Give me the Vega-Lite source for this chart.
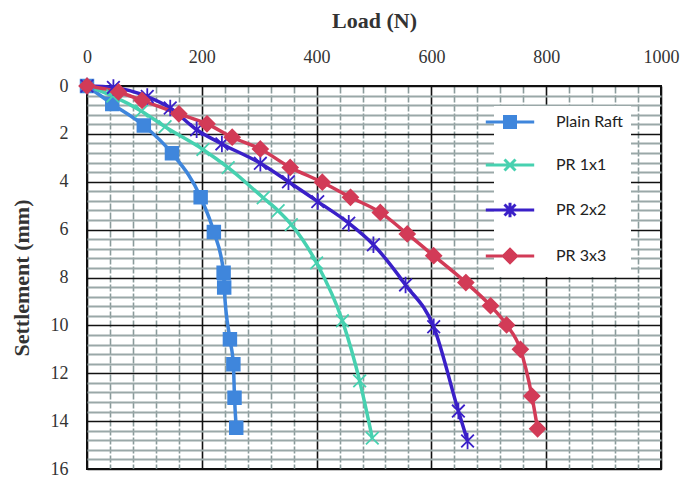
{
  "$schema": "https://vega.github.io/schema/vega-lite/v6.json",
  "width": 574,
  "height": 383,
  "autosize": {"type": "none"},
  "padding": {"left": 87, "top": 86, "right": 24, "bottom": 12},
  "background": "white",
  "config": {"view": {"stroke": "#111", "strokeWidth": 2}},
  "data": {"values": [
    {"series": "Plain Raft", "load": 0, "settlement": 0},
    {"series": "Plain Raft", "load": 44, "settlement": 0.75},
    {"series": "Plain Raft", "load": 99, "settlement": 1.65},
    {"series": "Plain Raft", "load": 148, "settlement": 2.81},
    {"series": "Plain Raft", "load": 198, "settlement": 4.65},
    {"series": "Plain Raft", "load": 221, "settlement": 6.1},
    {"series": "Plain Raft", "load": 238, "settlement": 7.8},
    {"series": "Plain Raft", "load": 239, "settlement": 8.42},
    {"series": "Plain Raft", "load": 249, "settlement": 10.58},
    {"series": "Plain Raft", "load": 255, "settlement": 11.62},
    {"series": "Plain Raft", "load": 257, "settlement": 13.02},
    {"series": "Plain Raft", "load": 260, "settlement": 14.28},
    {"series": "PR 1x1", "load": 0, "settlement": 0},
    {"series": "PR 1x1", "load": 45, "settlement": 0.42},
    {"series": "PR 1x1", "load": 95, "settlement": 1.05},
    {"series": "PR 1x1", "load": 136, "settlement": 1.7},
    {"series": "PR 1x1", "load": 202, "settlement": 2.65},
    {"series": "PR 1x1", "load": 246, "settlement": 3.41},
    {"series": "PR 1x1", "load": 307, "settlement": 4.67},
    {"series": "PR 1x1", "load": 333, "settlement": 5.21},
    {"series": "PR 1x1", "load": 356, "settlement": 5.79},
    {"series": "PR 1x1", "load": 400, "settlement": 7.39},
    {"series": "PR 1x1", "load": 445, "settlement": 9.81},
    {"series": "PR 1x1", "load": 475, "settlement": 12.32},
    {"series": "PR 1x1", "load": 497, "settlement": 14.71},
    {"series": "PR 2x2", "load": 0, "settlement": 0},
    {"series": "PR 2x2", "load": 46, "settlement": 0.06},
    {"series": "PR 2x2", "load": 105, "settlement": 0.44},
    {"series": "PR 2x2", "load": 145, "settlement": 0.92},
    {"series": "PR 2x2", "load": 191, "settlement": 1.83},
    {"series": "PR 2x2", "load": 235, "settlement": 2.42},
    {"series": "PR 2x2", "load": 302, "settlement": 3.23},
    {"series": "PR 2x2", "load": 351, "settlement": 4.0},
    {"series": "PR 2x2", "load": 402, "settlement": 4.83},
    {"series": "PR 2x2", "load": 456, "settlement": 5.73},
    {"series": "PR 2x2", "load": 499, "settlement": 6.63},
    {"series": "PR 2x2", "load": 555, "settlement": 8.31},
    {"series": "PR 2x2", "load": 604, "settlement": 10.06},
    {"series": "PR 2x2", "load": 647, "settlement": 13.58},
    {"series": "PR 2x2", "load": 663, "settlement": 14.83},
    {"series": "PR 3x3", "load": 0, "settlement": 0},
    {"series": "PR 3x3", "load": 55, "settlement": 0.25},
    {"series": "PR 3x3", "load": 96, "settlement": 0.6},
    {"series": "PR 3x3", "load": 160, "settlement": 1.16},
    {"series": "PR 3x3", "load": 209, "settlement": 1.58},
    {"series": "PR 3x3", "load": 253, "settlement": 2.14},
    {"series": "PR 3x3", "load": 302, "settlement": 2.63},
    {"series": "PR 3x3", "load": 354, "settlement": 3.4},
    {"series": "PR 3x3", "load": 410, "settlement": 4.02},
    {"series": "PR 3x3", "load": 459, "settlement": 4.65},
    {"series": "PR 3x3", "load": 511, "settlement": 5.28},
    {"series": "PR 3x3", "load": 558, "settlement": 6.18},
    {"series": "PR 3x3", "load": 604, "settlement": 7.09},
    {"series": "PR 3x3", "load": 660, "settlement": 8.21},
    {"series": "PR 3x3", "load": 703, "settlement": 9.18},
    {"series": "PR 3x3", "load": 731, "settlement": 9.98},
    {"series": "PR 3x3", "load": 755, "settlement": 11.0},
    {"series": "PR 3x3", "load": 775, "settlement": 12.95},
    {"series": "PR 3x3", "load": 785, "settlement": 14.32}
  ]},
  "encoding": {
    "x": {
      "field": "load", "type": "quantitative",
      "scale": {"domain": [0, 1000], "nice": false},
      "axis": {
        "orient": "top", "title": "Load (N)",
        "values": [0,40,80,120,160,200,240,280,320,360,400,440,480,520,560,600,640,680,720,760,800,840,880,920,960,1000],
        "labelExpr": "datum.value % 200 === 0 ? format(datum.value, 'd') : ''",
        "labelOverlap": false, "labelFlush": false,
        "ticks": false, "domain": false,
        "labelFont": "Liberation Serif", "labelFontSize": 18, "labelColor": "#333", "labelPadding": 20,
        "titleFont": "Liberation Serif", "titleFontSize": 22, "titleFontWeight": "bold", "titleColor": "#333", "titlePadding": 16,
        "grid": true,
        "gridColor": {"condition": {"test": "datum.value % 200 === 0", "value": "#111"}, "value": "#8a9b9b"},
        "gridWidth": {"condition": {"test": "datum.value % 200 === 0", "value": 1.6}, "value": 1.6},
        "gridDash": {"condition": {"test": "datum.value % 200 === 0", "value": []}, "value": [7, 2]},
        "gridOpacity": 1
      }
    },
    "y": {
      "field": "settlement", "type": "quantitative",
      "scale": {"domain": [0, 16], "nice": false, "reverse": true},
      "axis": {
        "orient": "left", "title": "Settlement (mm)",
        "values": [0,0.4,0.8,1.2,1.6,2,2.4,2.8,3.2,3.6,4,4.4,4.8,5.2,5.6,6,6.4,6.8,7.2,7.6,8,8.4,8.8,9.2,9.6,10,10.4,10.8,11.2,11.6,12,12.4,12.8,13.2,13.6,14,14.4,14.8,15.2,15.6,16],
        "labelExpr": "datum.value % 2 === 0 ? format(datum.value, 'd') : ''",
        "labelOverlap": false, "labelFlush": false,
        "ticks": false, "domain": false,
        "labelFont": "Liberation Serif", "labelFontSize": 18, "labelColor": "#333", "labelPadding": 19,
        "titleFont": "Liberation Serif", "titleFontSize": 22, "titleFontWeight": "bold", "titleColor": "#333", "titlePadding": 17,
        "grid": true,
        "gridColor": {"condition": {"test": "datum.value % 2 === 0", "value": "#111"}, "value": "#9aa8a8"},
        "gridWidth": {"condition": {"test": "datum.value % 2 === 0", "value": 1.6}, "value": 1.8},
        "gridOpacity": 1
      }
    }
  },
  "resolve": {"scale": {"shape": "independent", "fill": "independent", "stroke": "independent"}},
  "layer": [
    {
      "mark": {"type": "line", "interpolate": "monotone", "strokeWidth": 3.5},
      "encoding": {
        "color": {"field": "series", "type": "nominal",
          "scale": {"domain": ["Plain Raft", "PR 1x1", "PR 2x2", "PR 3x3"], "range": ["#3f86dc", "#47d1b0", "#3a20c8", "#d23b57"]},
          "legend": null}
      }
    },
    {
      "mark": {"type": "point", "filled": true, "size": 160, "opacity": 1, "strokeWidth": 1.8,
        "stroke": {"expr": "scale('color', datum.series)"}},
      "encoding": {
        "color": {"field": "series", "type": "nominal",
          "scale": {"domain": ["Plain Raft", "PR 1x1", "PR 2x2", "PR 3x3"], "range": ["#3f86dc", "#47d1b0", "#3a20c8", "#d23b57"]},
          "legend": null},
        "shape": {"field": "series", "type": "nominal",
          "scale": {"domain": ["Plain Raft", "PR 1x1", "PR 2x2", "PR 3x3"],
            "range": ["M-1,-1H1V1H-1Z", "M-1,-1L1,1M-1,1L1,-1", "M-1,-1L1,1M-1,1L1,-1M0,-1.3V1.3", "M0,-1.2L1.2,0L0,1.2L-1.2,0Z"]},
          "legend": null}
      }
    },
    {
      "transform": [{"filter": "datum.load < 0"}],
      "mark": {"type": "point", "filled": true, "size": 121, "opacity": 1, "strokeWidth": 3},
      "encoding": {
        "fill": {"field": "series", "type": "nominal",
          "scale": {"domain": ["Plain Raft", "PR 1x1", "PR 2x2", "PR 3x3"], "range": ["#3f86dc", "#47d1b0", "#3a20c8", "#d23b57"]},
          "legend": {
            "title": null, "orient": "none", "legendX": 407, "legendY": 20,
            "labelFont": "Lato", "labelFontSize": 16, "labelColor": "#222",
            "symbolSize": 121, "symbolStrokeWidth": 3, "rowPadding": 19, "labelOffset": 38, "padding": 8,
            "fillColor": "white"
          }},
        "stroke": {"field": "series", "type": "nominal",
          "scale": {"domain": ["Plain Raft", "PR 1x1", "PR 2x2", "PR 3x3"], "range": ["#3f86dc", "#47d1b0", "#3a20c8", "#d23b57"]},
          "legend": {
            "title": null, "orient": "none", "legendX": 407, "legendY": 20,
            "labelFont": "Lato", "labelFontSize": 16, "labelColor": "#222",
            "symbolSize": 121, "symbolStrokeWidth": 3, "rowPadding": 19, "labelOffset": 38, "padding": 8,
            "fillColor": "white"
          }},
        "shape": {"field": "series", "type": "nominal",
          "scale": {"domain": ["Plain Raft", "PR 1x1", "PR 2x2", "PR 3x3"],
            "range": ["M-4.4,0H4.4M-1,-1H1V1H-1Z", "M-4.4,0H4.4M-1,-1L1,1M-1,1L1,-1", "M-4.4,0H4.4M-1,-1L1,1M-1,1L1,-1M0,-1.3V1.3", "M-4.4,0H4.4M0,-1.2L1.2,0L0,1.2L-1.2,0Z"]},
          "legend": {
            "title": null, "orient": "none", "legendX": 407, "legendY": 20,
            "labelFont": "Lato", "labelFontSize": 16, "labelColor": "#222",
            "symbolSize": 121, "symbolStrokeWidth": 3, "rowPadding": 19, "labelOffset": 38, "padding": 8,
            "fillColor": "white"
          }}
      }
    }
  ]
}
